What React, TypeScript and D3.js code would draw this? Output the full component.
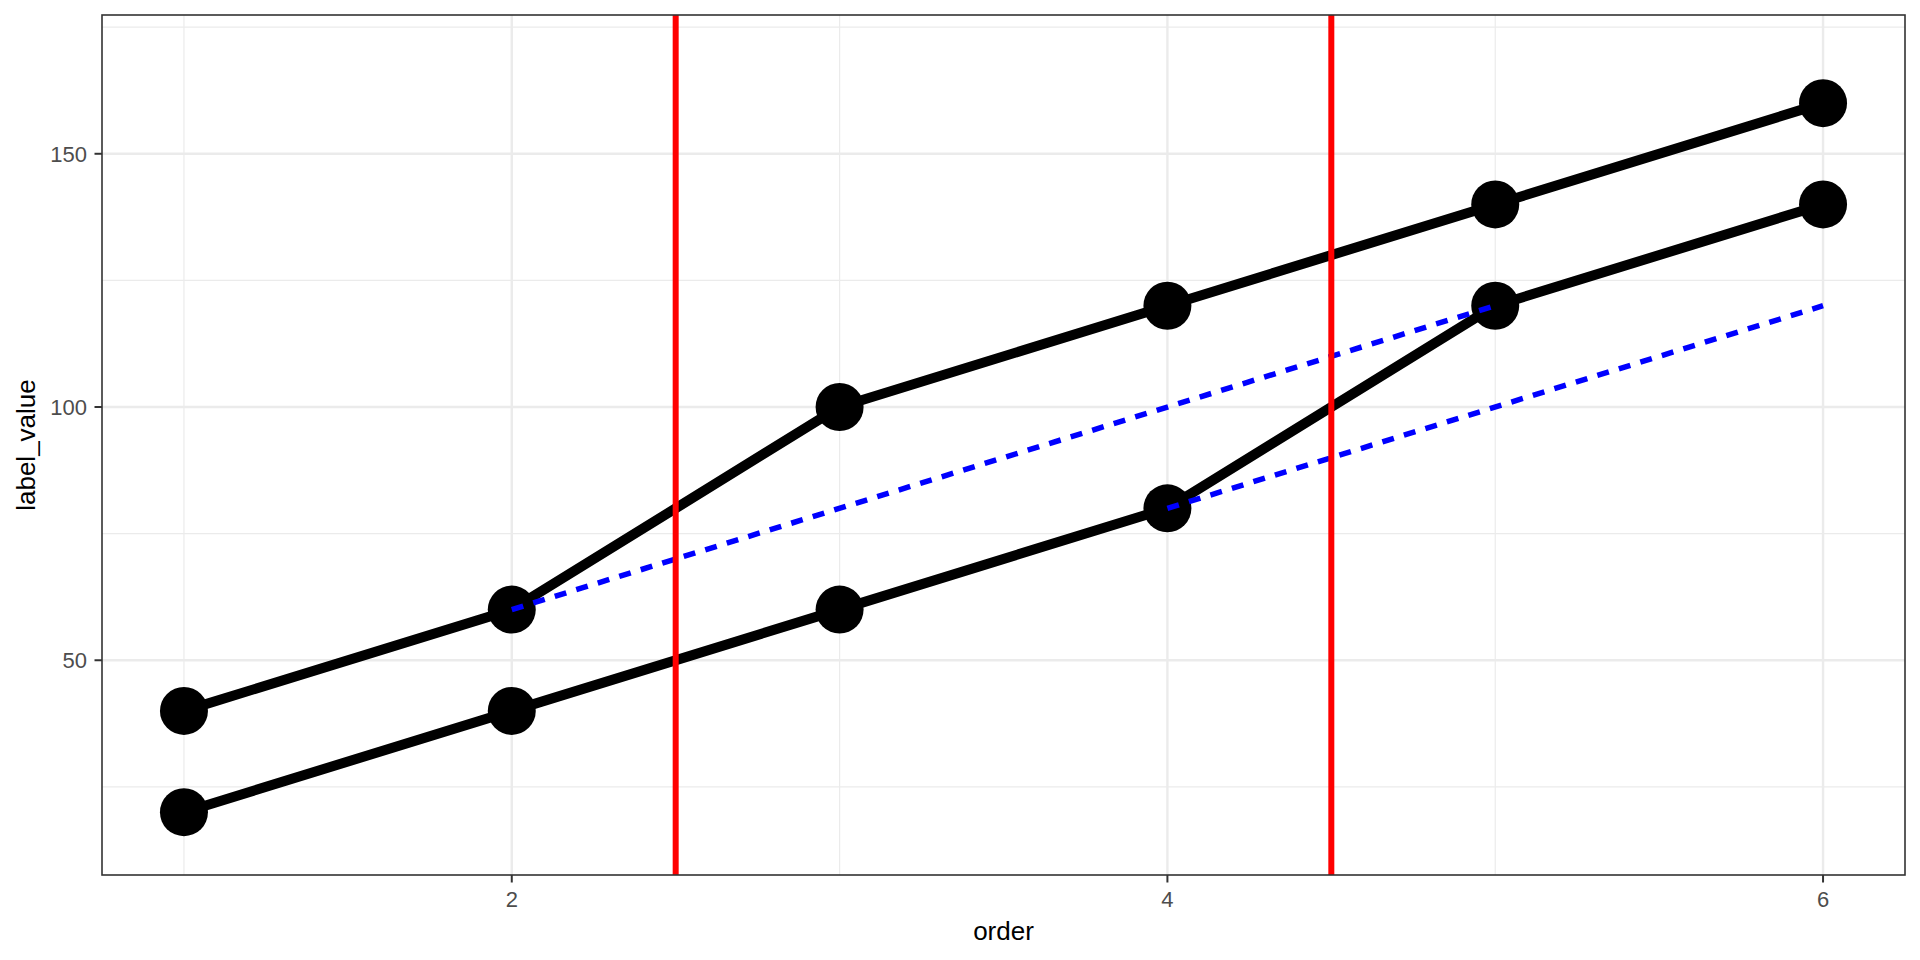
import React from "react";
import * as d3 from "d3";

const orderValues = [1, 2, 3, 4, 5, 6];
const upperSeries = [40, 60, 100, 120, 140, 160];
const lowerSeries = [20, 40, 60, 80, 120, 140];
const blueSegments = [
  { x1: 2, y1: 60, x2: 5, y2: 120 },
  { x1: 4, y1: 80, x2: 6, y2: 120 },
];
const redLines = [2.5, 4.5];
const xTicks = [2, 4, 6];
const xMinor = [1, 3, 5];
const yTicks = [50, 100, 150];
const yMinor = [25, 75, 125, 175];

const W = 1920;
const H = 960;
const left = 102;
const right = 1905;
const top = 15;
const bottom = 875;

export default function App() {
  const x = d3.scaleLinear().domain([0.75, 6.25]).range([left, right]);
  const y = d3.scaleLinear().domain([7.6, 177.4]).range([bottom, top]);
  const line = d3
    .line<[number, number]>()
    .x((d) => x(d[0]))
    .y((d) => y(d[1]));
  const series = [upperSeries, lowerSeries];
  const font = "'Liberation Sans', Arial, Helvetica, sans-serif";
  return (
    <svg
      width={W}
      height={H}
      style={{ position: "absolute", left: 0, top: 0, background: "#fff" }}
    >
      <rect x={0} y={0} width={W} height={H} fill="#fff" />
      <defs>
        <clipPath id="panel">
          <rect x={left} y={top} width={right - left} height={bottom - top} />
        </clipPath>
      </defs>
      <g clipPath="url(#panel)">
        {yMinor.map((v) => (
          <line key={"ym" + v} x1={left} x2={right} y1={y(v)} y2={y(v)} stroke="#ebebeb" strokeWidth={1.2} />
        ))}
        {xMinor.map((v) => (
          <line key={"xm" + v} y1={top} y2={bottom} x1={x(v)} x2={x(v)} stroke="#ebebeb" strokeWidth={1.2} />
        ))}
        {yTicks.map((v) => (
          <line key={"yg" + v} x1={left} x2={right} y1={y(v)} y2={y(v)} stroke="#ebebeb" strokeWidth={2.4} />
        ))}
        {xTicks.map((v) => (
          <line key={"xg" + v} y1={top} y2={bottom} x1={x(v)} x2={x(v)} stroke="#ebebeb" strokeWidth={2.4} />
        ))}
        {series.map((s, i) => (
          <path
            key={"s" + i}
            d={line(orderValues.map((o, j) => [o, s[j]] as [number, number])) || ""}
            fill="none"
            stroke="#000"
            strokeWidth={10}
            strokeLinejoin="round"
          />
        ))}
        {series.map((s, i) =>
          orderValues.map((o, j) => (
            <circle key={"p" + i + "-" + j} cx={x(o)} cy={y(s[j])} r={24} fill="#000" />
          ))
        )}
        {blueSegments.map((b, i) => (
          <line
            key={"b" + i}
            x1={x(b.x1)}
            y1={y(b.y1)}
            x2={x(b.x2)}
            y2={y(b.y2)}
            stroke="#0000ff"
            strokeWidth={5.5}
            strokeDasharray="12 10.5"
          />
        ))}
        {redLines.map((v) => (
          <line key={"r" + v} x1={x(v)} x2={x(v)} y1={top} y2={bottom} stroke="#ff0000" strokeWidth={6} />
        ))}
      </g>
      <rect
        x={left}
        y={top}
        width={right - left}
        height={bottom - top}
        fill="none"
        stroke="#333333"
        strokeWidth={1.6}
      />
      {xTicks.map((v) => (
        <g key={"xt" + v}>
          <line x1={x(v)} x2={x(v)} y1={bottom} y2={bottom + 7.5} stroke="#333333" strokeWidth={2} />
          <text x={x(v)} y={907} textAnchor="middle" fontFamily={font} fontSize={22} fill="#4d4d4d">
            {v}
          </text>
        </g>
      ))}
      {yTicks.map((v) => (
        <g key={"yt" + v}>
          <line x1={left - 7.5} x2={left} y1={y(v)} y2={y(v)} stroke="#333333" strokeWidth={2} />
          <text
            x={87}
            y={y(v)}
            dy="0.36em"
            textAnchor="end"
            fontFamily={font}
            fontSize={22}
            fill="#4d4d4d"
          >
            {v}
          </text>
        </g>
      ))}
      <text x={(left + right) / 2} y={940} textAnchor="middle" fontFamily={font} fontSize={26} fill="#000">
        order
      </text>
      <text
        transform={`translate(35, ${(top + bottom) / 2}) rotate(-90)`}
        textAnchor="middle"
        fontFamily={font}
        fontSize={26}
        fill="#000"
      >
        label_value
      </text>
    </svg>
  );
}
